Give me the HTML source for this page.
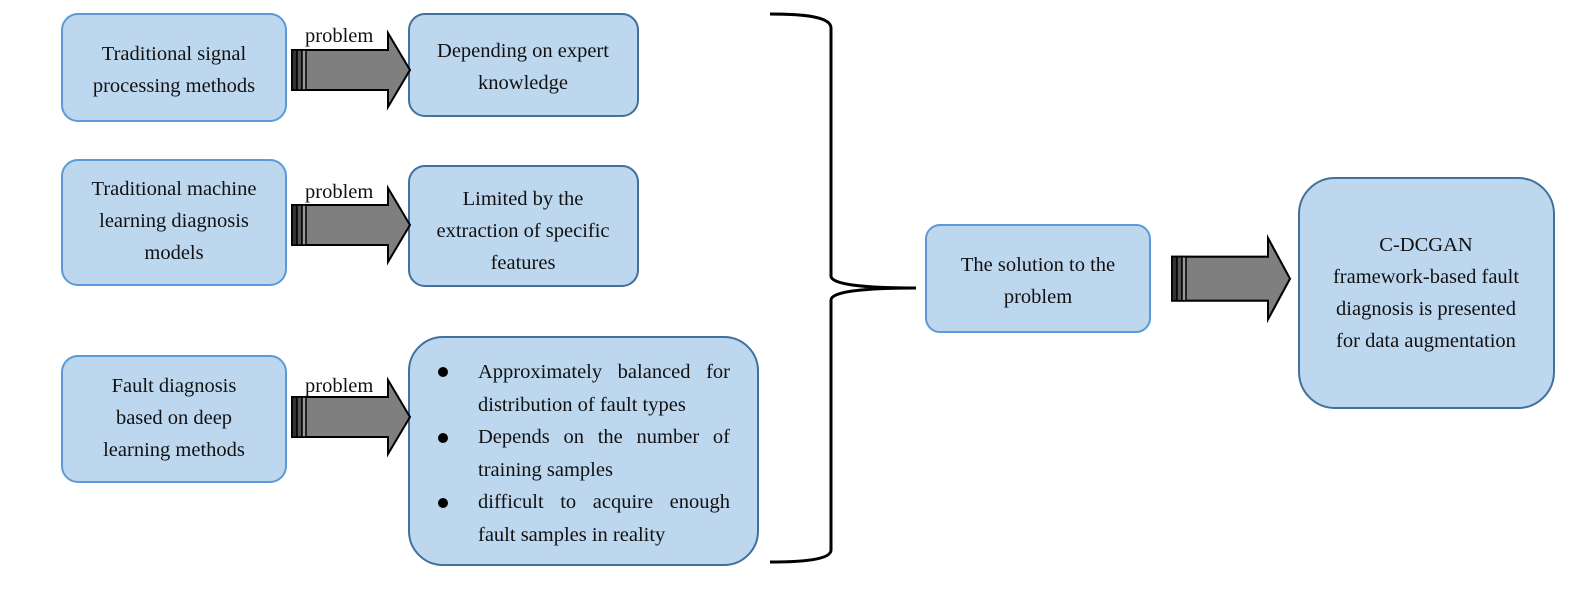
<!DOCTYPE html>
<html><head><meta charset="utf-8"><style>
html,body{margin:0;padding:0;background:#fff;}
svg{display:block;}
text{font-family:"Liberation Serif",serif;font-size:20.5px;fill:#111;}
#bl{position:absolute;left:478px;top:356px;width:252px;font-family:"Liberation Serif",serif;font-size:20.5px;line-height:32.6px;color:#111;text-align:justify;}
#bl p{margin:0;}
</style></head><body>
<div style="position:relative;width:1596px;height:606px;">
<svg width="1596" height="606" viewBox="0 0 1596 606" xmlns="http://www.w3.org/2000/svg">
<defs>
<g id="arr">
  <polygon points="0,17 96,17 96,0 118,37 96,74 96,57 0,57" fill="#7f7f7f" stroke="#000" stroke-width="2"/>
  <rect x="0" y="17" width="5" height="40" fill="#333" stroke="#000" stroke-width="1.5"/>
  <rect x="5" y="17" width="5" height="40" fill="#555" stroke="#000" stroke-width="1.5"/>
  <rect x="10" y="17" width="4" height="40" fill="#999" stroke="#000" stroke-width="1.5"/>
</g>
</defs>
<g fill="#bdd7ee" stroke="#5b9bd5" stroke-width="2">
<rect x="62" y="14" width="224" height="107" rx="16"/>
<rect x="62" y="160" width="224" height="125" rx="16"/>
<rect x="62" y="356" width="224" height="126" rx="16"/>
<rect x="926" y="225" width="224" height="107" rx="14"/>
</g>
<g fill="#bdd7ee" stroke="#41719c" stroke-width="2">
<rect x="409" y="14" width="229" height="102" rx="16"/>
<rect x="409" y="166" width="229" height="120" rx="16"/>
<rect x="409" y="337" width="349" height="228" rx="34"/>
<rect x="1299" y="178" width="255" height="230" rx="36"/>
</g>
<use href="#arr" x="292" y="33"/>
<use href="#arr" x="292" y="188"/>
<use href="#arr" x="292" y="380"/>
<g transform="translate(1172,238) scale(1,1.1)"><use href="#arr"/></g>
<text x="305" y="42">problem</text>
<text x="305" y="198">problem</text>
<text x="305" y="392">problem</text>
<path d="M770,14 C800,14 831,16 831,28 L831,276 C831,284 860,288 916,288 C860,288 831,292 831,300 L831,550 C831,560 800,562 770,562" fill="none" stroke="#000" stroke-width="3"/>
<g text-anchor="middle">
<text x="174" y="60">Traditional signal</text>
<text x="174" y="92">processing methods</text>
<text x="174" y="195">Traditional machine</text>
<text x="174" y="227">learning diagnosis</text>
<text x="174" y="259">models</text>
<text x="174" y="392">Fault diagnosis</text>
<text x="174" y="424">based on deep</text>
<text x="174" y="456">learning methods</text>
<text x="523" y="57">Depending on expert</text>
<text x="523" y="89">knowledge</text>
<text x="523" y="205">Limited by the</text>
<text x="523" y="237">extraction of specific</text>
<text x="523" y="269">features</text>
<text x="1038" y="271">The solution to the</text>
<text x="1038" y="303">problem</text>
<text x="1426" y="251">C-DCGAN</text>
<text x="1426" y="283">framework-based fault</text>
<text x="1426" y="315">diagnosis is presented</text>
<text x="1426" y="347">for data augmentation</text>
</g>
<g fill="#000"><circle cx="443" cy="372" r="5"/><circle cx="443" cy="438" r="5"/><circle cx="443" cy="503" r="5"/></g>
</svg>
<div id="bl">
<p>Approximately balanced for distribution of fault types</p>
<p>Depends on the number of training samples</p>
<p>difficult to acquire enough fault samples in reality</p>
</div>
</div>
</body></html>
